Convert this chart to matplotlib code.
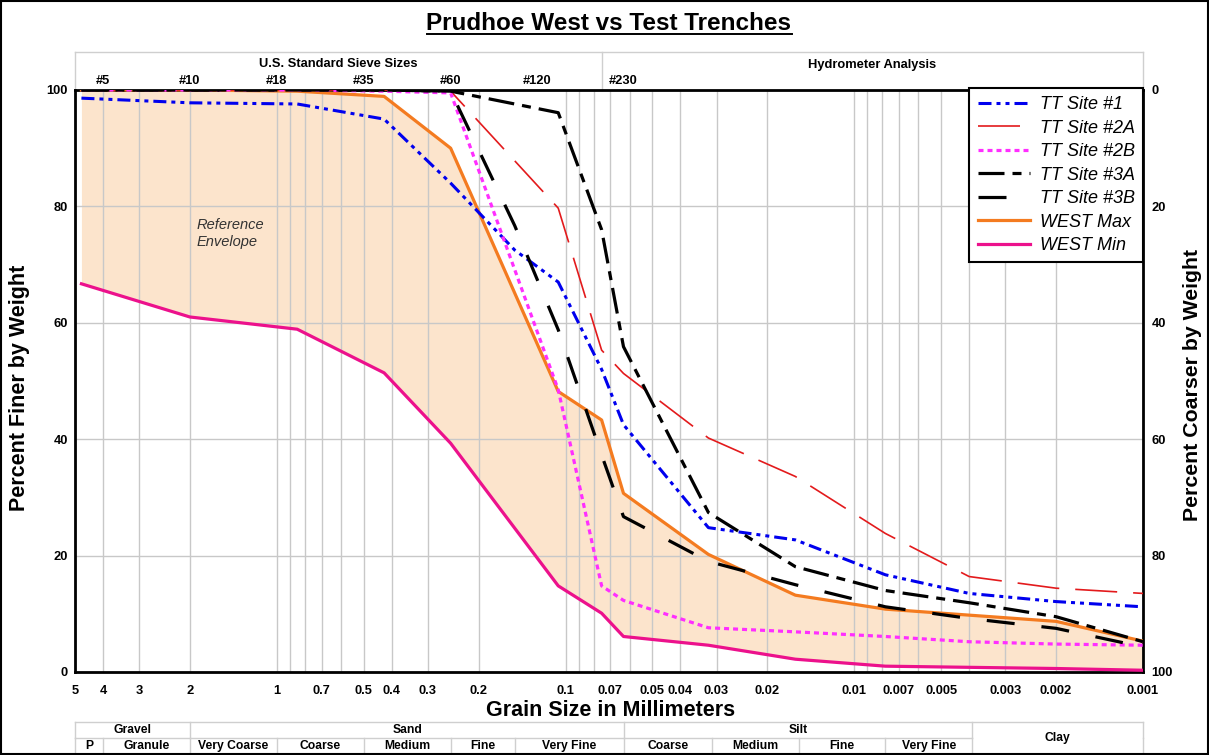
import numpy as np
import matplotlib
matplotlib.use('Agg')
import matplotlib.pyplot as plt
from matplotlib.ticker import FixedLocator, LogLocator, NullFormatter, NullLocator
import matplotlib.transforms as mtransforms
from matplotlib.lines import Line2D
from matplotlib.patches import Rectangle

plt.rcParams['font.family'] = ['Liberation Sans', 'DejaVu Sans']
plt.rcParams['lines.scale_dashes'] = False

# ---------------- data ----------------
west_sizes = [4.75, 2.0, 0.85, 0.425, 0.25, 0.106, 0.075, 0.063, 0.032, 0.016, 0.0078, 0.002, 0.001]
west_max = [100, 100, 99.8, 98.9, 90.0, 48.2, 43.3, 30.7, 20.2, 13.2, 10.8, 8.7, 5.3]
west_min = [66.7, 61.0, 58.9, 51.4, 39.3, 14.8, 10.1, 6.1, 4.6, 2.2, 1.0, 0.6, 0.3]

tt1_sizes = [4.75, 2.0, 0.85, 0.425, 0.25, 0.15, 0.106, 0.075, 0.063, 0.032, 0.016, 0.0078, 0.004, 0.002, 0.001]
tt1 = [98.6, 97.8, 97.6, 95.0, 84.0, 72.5, 67.0, 52.0, 42.5, 24.8, 22.7, 16.7, 13.5, 12.1, 11.2]

tt2a_sizes = [4.75, 2.0, 0.85, 0.425, 0.25, 0.106, 0.075, 0.063, 0.032, 0.016, 0.0078, 0.004, 0.002, 0.001]
tt2a = [100, 100, 100, 100, 99.8, 79.7, 55.3, 51.3, 40.2, 33.6, 23.8, 16.4, 14.4, 13.5]

tt2b_sizes = [4.75, 2.0, 0.85, 0.425, 0.25, 0.106, 0.075, 0.063, 0.032, 0.016, 0.0078, 0.004, 0.002, 0.001]
tt2b = [100, 100, 100, 99.8, 99.5, 48.5, 14.8, 12.3, 7.6, 6.9, 6.1, 5.2, 4.8, 4.6]

tt3a_sizes = [4.75, 2.0, 0.85, 0.425, 0.25, 0.106, 0.075, 0.063, 0.032, 0.016, 0.0078, 0.004, 0.002, 0.001]
tt3a = [100, 100, 100, 100, 99.8, 96.1, 76.0, 55.9, 27.4, 18.1, 14.0, 11.9, 9.5, 5.2]

tt3b_sizes = [4.75, 2.0, 0.85, 0.425, 0.25, 0.15, 0.106, 0.075, 0.063, 0.032, 0.016, 0.0078, 0.004, 0.002, 0.001]
tt3b = [100, 100, 100, 100, 99.8, 76.7, 58.8, 37.3, 26.7, 19.0, 15.0, 11.2, 9.2, 7.5, 4.3]

x_ticks = [5, 4, 3, 2, 1, 0.7, 0.5, 0.4, 0.3, 0.2, 0.1, 0.07, 0.05, 0.04, 0.03, 0.02,
           0.01, 0.007, 0.005, 0.003, 0.002, 0.001]
x_tick_labels = ['5', '4', '3', '2', '1', '0.7', '0.5', '0.4', '0.3', '0.2', '0.1', '0.07',
                 '0.05', '0.04', '0.03', '0.02', '0.01', '0.007', '0.005', '0.003', '0.002', '0.001']
y_ticks = [0, 20, 40, 60, 80, 100]

sieve_sizes = [4.0, 2.0, 1.0, 0.5, 0.25, 0.125, 0.063]
sieve_labels = ['#5', '#10', '#18', '#35', '#60', '#120', '#230']
hydrometer_split = 0.075

class_row1_bounds = [5, 2.0, 0.0625, 0.0039]
class_row1_labels = ['Gravel', 'Sand', 'Silt']
class_row2_bounds = [5, 4.0, 2.0, 1.0, 0.5, 0.25, 0.15, 0.0625, 0.031, 0.0156, 0.0078, 0.0039]
class_row2_labels = ['P', 'Granule', 'Very Coarse', 'Coarse', 'Medium', 'Fine', 'Very Fine',
                     'Coarse', 'Medium', 'Fine', 'Very Fine']
clay_bounds = [0.0039, 0.001]

# ---------------- figure ----------------
W, H = 1209, 755
fig = plt.figure(figsize=(W / 100, H / 100), dpi=100)
L, R, T, B = 75, 1143, 90, 672
ax = fig.add_axes([L / W, 1 - B / H, (R - L) / W, (B - T) / H])
ax.set_xscale('log')
ax.set_xlim(5, 0.001)
ax.set_ylim(0, 100)
ax.set_axisbelow(True)

px = 72 / 100.0  # pixel -> point
grid_c = '#C8C8C8'

ax.fill_between(west_sizes, west_min, west_max, color='#FCE4CC', lw=0, zorder=0.2)

ax.xaxis.set_major_locator(FixedLocator(x_ticks))
ax.set_xticklabels(x_tick_labels)
ax.xaxis.set_minor_locator(LogLocator(base=10, subs=np.arange(1, 10), numticks=100))
ax.xaxis.set_minor_formatter(NullFormatter())
ax.set_yticks(y_ticks)
ax.grid(which='both', axis='x', color=grid_c, lw=1.0)
ax.grid(which='major', axis='y', color=grid_c, lw=1.0)
ax.tick_params(which='both', length=0)
ax.tick_params(axis='x', pad=9)
ax.tick_params(axis='y', pad=5)
for lab in ax.get_xticklabels() + ax.get_yticklabels():
    lab.set_fontweight('bold')
    lab.set_fontsize(9.3)
for s in ax.spines.values():
    s.set_linewidth(2.0)
    s.set_color('black')

# curves
h_max, = ax.plot(west_sizes, west_max, color='#F47B20', lw=2.3, label='WEST Max', zorder=3)
h_min, = ax.plot(west_sizes, west_min, color='#EC118C', lw=2.3, label='WEST Min', zorder=3)
h1, = ax.plot(tt1_sizes, tt1, color='#0000EE', lw=2.2, label='TT Site #1', zorder=4,
              dashes=[13 * px, 5 * px, 4 * px, 5 * px, 4 * px, 5 * px])
h2a, = ax.plot(tt2a_sizes, tt2a, color='#E31A1C', lw=1.2, label='TT Site #2A', zorder=4,
               dashes=[42 * px, 16 * px])
h2b, = ax.plot(tt2b_sizes, tt2b, color='#FF2EFF', lw=2.3, label='TT Site #2B', zorder=4,
               dashes=[5 * px, 4 * px])
h3a, = ax.plot(tt3a_sizes, tt3a, color='black', lw=2.3, label='TT Site #3A', zorder=4,
               dashes=[26 * px, 8 * px, 9 * px, 8 * px])
h3b, = ax.plot(tt3b_sizes, tt3b, color='black', lw=2.3, label='TT Site #3B', zorder=4,
               dashes=[28 * px, 27 * px])

leg = ax.legend([h1, h2a, h2b, h3a, h3b, h_max, h_min],
                ['TT Site #1', 'TT Site #2A', 'TT Site #2B', 'TT Site #3A', 'TT Site #3B',
                 'WEST Max', 'WEST Min'],
                loc='upper right', bbox_to_anchor=(1.0, 1.0035), borderaxespad=0,
                frameon=True, fancybox=False, edgecolor='black', framealpha=1,
                prop={'style': 'italic', 'size': 13}, handlelength=2.9,
                handletextpad=0.55, labelspacing=0.36, borderpad=0.45)
leg.get_frame().set_linewidth(1.5)
leg.set_zorder(10)

ax.text(0.1142, 0.754, 'Reference\nEnvelope', transform=ax.transAxes, fontsize=10.5,
        style='italic', color='#333333', va='center', ha='left', linespacing=1.25)

# right axis
axr = ax.twinx()
axr.set_ylim(100, 0)
axr.set_yticks(y_ticks)
axr.tick_params(length=0, pad=6)
for lab in axr.get_yticklabels():
    lab.set_fontweight('bold')
    lab.set_fontsize(9.3)
for s in axr.spines.values():
    s.set_visible(False)

# top sieve axis
axt = ax.twiny()
axt.set_xscale('log')
axt.set_xlim(5, 0.001)
axt.xaxis.set_major_locator(FixedLocator(sieve_sizes))
axt.xaxis.set_minor_locator(NullLocator())
axt.set_xticklabels(sieve_labels)
axt.tick_params(length=0, pad=2)
for lab in axt.get_xticklabels():
    lab.set_fontweight('bold')
    lab.set_fontsize(9.3)
for s in axt.spines.values():
    s.set_visible(False)

trans = mtransforms.blended_transform_factory(ax.transData, ax.transAxes)
light = '#CFCFCF'

def yfrac(ypix):
    return (B - ypix) / (B - T)

def seg(x0, x1, y0, y1):
    ax.add_line(Line2D([x0, x1], [y0, y1], transform=trans, clip_on=False,
                       color=light, lw=1.0, zorder=1))

# header box
ytop = yfrac(52)
seg(5, 0.001, ytop, ytop)
for xv in [5, hydrometer_split, 0.001]:
    seg(xv, xv, ytop, 1.0)
ax.text(np.sqrt(5 * hydrometer_split), yfrac(64), 'U.S. Standard Sieve Sizes', transform=trans,
        ha='center', va='center', fontsize=9.3, fontweight='bold')
ax.text(np.sqrt(hydrometer_split * 0.001), yfrac(65), 'Hydrometer Analysis', transform=trans,
        ha='center', va='center', fontsize=9.3, fontweight='bold')

# classification table
y1, y2, y3 = yfrac(722), yfrac(738), yfrac(754)
seg(5, 0.001, y1, y1)
seg(5, clay_bounds[0], y2, y2)
seg(5, 0.001, y3, y3)
for xv in class_row1_bounds + [0.001]:
    seg(xv, xv, y1, y2)
for xv in class_row2_bounds + [0.001]:
    seg(xv, xv, y2, y3)
r1b = class_row1_bounds + [clay_bounds[0]]
for i, lab in enumerate(class_row1_labels):
    ax.text(np.sqrt(r1b[i] * r1b[i + 1]), (y1 + y2) / 2, lab, transform=trans,
            ha='center', va='center', fontsize=8.7, fontweight='bold')
r2b = class_row2_bounds
for i, lab in enumerate(class_row2_labels):
    ax.text(np.sqrt(r2b[i] * r2b[i + 1]), (y2 + y3) / 2, lab, transform=trans,
            ha='center', va='center', fontsize=8.7, fontweight='bold')
ax.text(np.sqrt(clay_bounds[0] * clay_bounds[1]), (y1 + y3) / 2, 'Clay', transform=trans,
        ha='center', va='center', fontsize=8.7, fontweight='bold')

ax.set_xlim(5, 0.001)
ax.set_ylim(0, 100)

# labels
fig.text(20 / W, 1 - 388 / H, 'Percent Finer by Weight', rotation=90, ha='center', va='center',
         fontsize=15.5, fontweight='bold')
fig.text(1193 / W, 1 - 385 / H, 'Percent Coarser by Weight', rotation=90, ha='center',
         va='center', fontsize=15.3, fontweight='bold')
fig.text(611 / W, 1 - 710 / H, 'Grain Size in Millimeters', ha='center', va='center',
         fontsize=15.5, fontweight='bold')
title = fig.text(609 / W, 1 - 23 / H, 'Prudhoe West vs Test Trenches', ha='center', va='center',
                 fontsize=17.5, fontweight='bold')

fig.add_artist(Rectangle((0.001, 0.001), 0.998, 0.998, transform=fig.transFigure, fill=False,
                         ec='black', lw=1.5))

fig.canvas.draw()
bb = title.get_window_extent()
inv = fig.transFigure.inverted()
(x0f, y0f) = inv.transform((bb.x0, bb.y0 + 1))
(x1f, _) = inv.transform((bb.x1, bb.y0 + 1))
fig.add_artist(Line2D([x0f, x1f], [y0f, y0f], transform=fig.transFigure, color='black', lw=1.4))

fig.savefig('out.png', dpi=100)
